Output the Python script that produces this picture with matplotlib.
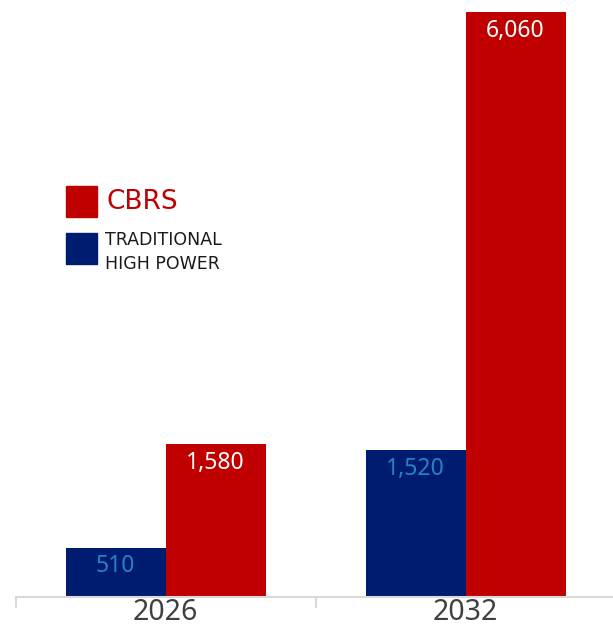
import matplotlib

matplotlib.use("Agg")
import matplotlib.pyplot as plt
from matplotlib.patches import Rectangle

years = ["2026", "2032"]
traditional = [510, 1520]
cbrs = [1580, 6060]

RED = "#C00000"
NAVY = "#001C71"
LABEL_BLUE = "#2A7FC9"

plt.rcParams["font.family"] = ["Noto Sans", "DejaVu Sans"]

fig = plt.figure(figsize=(6.13, 6.29), dpi=100)
ax = fig.add_axes([15.5 / 613, 32 / 629, 600 / 613, 597 / 629])

x = list(range(len(years)))
w = 1 / 3
trad_bars = ax.bar([i - w / 2 for i in x], traditional, width=w, color=NAVY)
cbrs_bars = ax.bar([i + w / 2 for i in x], cbrs, width=w, color=RED)

ax.set_xlim(-0.5, 1.5)
ax.set_ylim(0, 6184)

# value labels sit just inside the top of each bar
ax.bar_label(trad_bars, labels=[f"{v:,}" for v in traditional], padding=-22,
             color=LABEL_BLUE, fontsize=16.5)
ax.bar_label(cbrs_bars, labels=[f"{v:,}" for v in cbrs], padding=-22,
             color="white", fontsize=16.5, fontweight="semibold")

for s in ("top", "right", "left"):
    ax.spines[s].set_visible(False)
ax.spines["bottom"].set_color("#D9D9D9")
ax.spines["bottom"].set_linewidth(1.5)
ax.set_yticks([])
ax.set_xticks(x, years)
ax.tick_params(axis="x", length=0, labelsize=20.5, labelcolor="#404040", pad=1)
ax.set_xticks([-0.5, 0.5, 1.5], minor=True)
ax.tick_params(axis="x", which="minor", length=8, width=1.5, color="#D9D9D9")

# legend drawn as plain squares with text beside them
fig.patches.append(Rectangle((66 / 613, 1 - 217 / 629), 31 / 613, 31 / 629,
                             transform=fig.transFigure, color=RED))
fig.patches.append(Rectangle((66 / 613, 1 - 264 / 629), 31 / 613, 31 / 629,
                             transform=fig.transFigure, color=NAVY))
fig.text(107 / 613, 1 - 202 / 629, "CBRS", color=RED, fontsize=19,
         family="DejaVu Sans", va="center", ha="left")
fig.text(105 / 613, 1 - 252 / 629, "TRADITIONAL\nHIGH POWER", color="#1A1A1A",
         fontsize=12.5, family="DejaVu Sans", va="center", ha="left",
         linespacing=1.45)

fig.savefig("out.png", dpi=100)
